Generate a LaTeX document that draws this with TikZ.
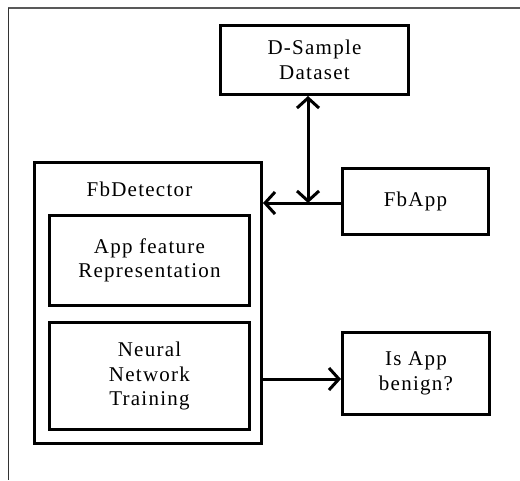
\documentclass[tikz,border=0pt]{standalone}
\usepackage{fontspec}
\setmainfont{Liberation Serif}
\newfontfamily\boxfont[LetterSpace=6]{Liberation Serif}
\usetikzlibrary{arrows.meta}

\tikzset{
  box/.style={draw, line width=3pt, inner sep=0pt, align=center,
    font=\boxfont\fontsize{21}{24.5}\selectfont},
  link/.style={line width=3pt, -{Straight Barb[length=10pt,width=22pt]}},
}

\begin{document}
\begin{tikzpicture}[x=1pt, y=-1pt]
    \useasboundingbox (0,0) rectangle (520,480);
    % page frame
    \draw[line width=2pt, black!65] (8,7.5) -- (520,7.5);
    \draw[line width=1pt, black!80] (8,7.5) -- (8,480);

    \node[box, minimum width=188pt, minimum height=69pt] (dsample) at (314.5,60) {D-Sample\\Dataset};
    \node[box, minimum width=227pt, minimum height=281pt] (fbdetector) at (148,303) {};
    \node[font=\boxfont\fontsize{21}{24.5}\selectfont] (fbdlabel) at (139.5,189) {FbDetector};
    \node[box, minimum width=200pt, minimum height=90pt] (feature) at (149.5,260.5) {App feature\\Representation};
    \node[box, minimum width=200pt, minimum height=107pt] (neural) at (149.5,376) {Neural\\Network\\Training};
    \node[box, minimum width=146pt, minimum height=66pt] (fbapp) at (415.5,201.5) {FbApp};
    \node[box, minimum width=147pt, minimum height=82pt] (benign) at (416,373.5) {Is App\\benign?};

    \coordinate (join) at (308,203);
    \draw[link] (fbapp.west |- join) -- (fbdetector.east |- join);
    \draw[link, {Straight Barb[length=10pt,width=22pt]}-{Straight Barb[length=10pt,width=22pt]}]
        (join |- dsample.south) -- (join);
    \draw[link] (fbdetector.east |- 0,379) -- (benign.west |- 0,379);
\end{tikzpicture}
\end{document}
